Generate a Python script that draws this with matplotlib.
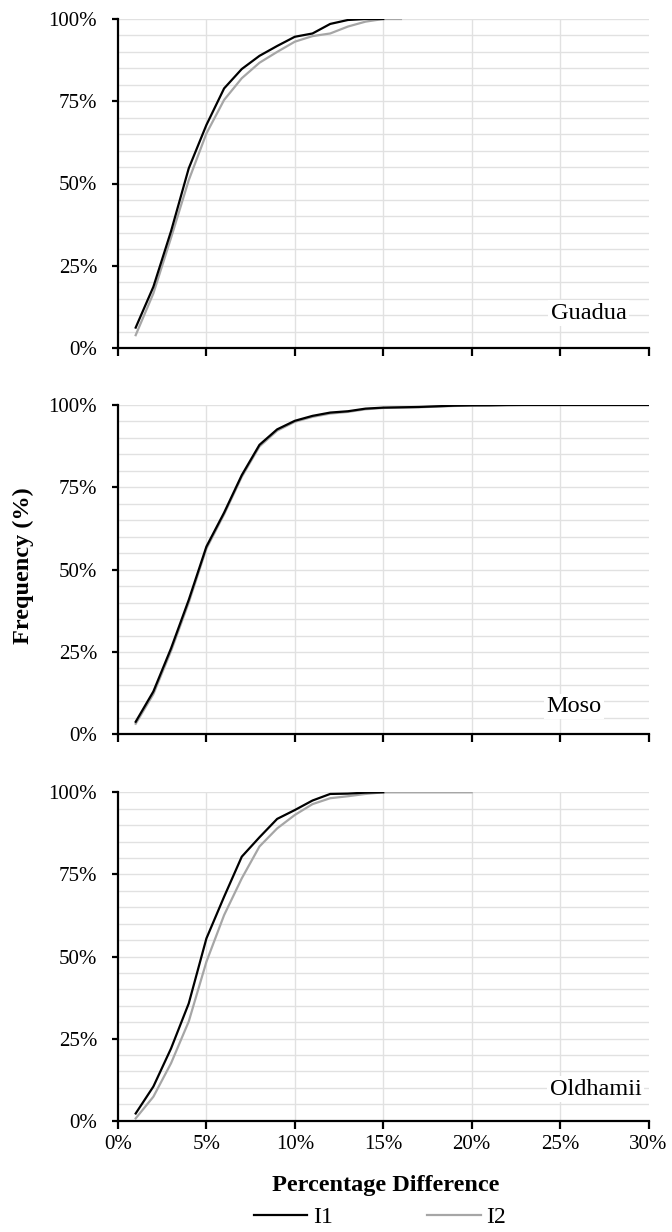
import matplotlib
matplotlib.use("Agg")
import matplotlib.pyplot as plt
from matplotlib.ticker import FuncFormatter, MultipleLocator

plt.rcParams['font.family'] = ['Liberation Serif', 'DejaVu Serif']

# ---- data (percentage difference, cumulative frequency %) ----
guadua_x_i1 = [1, 2, 3, 4, 5, 6, 7, 8, 9, 10, 11, 12, 13, 14, 15]
guadua_i1 = [6.2, 18.6, 35.5, 54.6, 67.8, 78.9, 84.8, 88.8, 91.8, 94.6, 95.6, 98.5, 99.7, 100, 100]
guadua_x_i2 = [1, 2, 3, 4, 5, 6, 7, 8, 9, 10, 11, 12, 13, 14, 15, 16]
guadua_i2 = [3.9, 16.6, 33.5, 51.0, 65.2, 75.4, 82.0, 86.7, 90.0, 93.1, 94.8, 95.6, 97.7, 99.2, 100, 100]

moso_x = [1, 2, 3, 4, 5, 6, 7, 8, 9, 10, 11, 12, 13, 14, 15, 16, 17, 18, 19, 20,
          21, 22, 23, 24, 25, 26, 27, 28, 29, 30]
moso_i1 = [3.8, 13.0, 26.1, 40.8, 57.0, 67.3, 78.7, 87.9, 92.6, 95.2, 96.7, 97.7, 98.1, 98.9, 99.2,
           99.3, 99.4, 99.6, 99.8, 99.9, 99.9, 100, 100, 100, 100, 100, 100, 100, 100, 100]
moso_i2 = [3.2, 12.2, 25.3, 40.0, 56.4, 66.8, 78.2, 87.4, 92.2, 94.9, 96.4, 97.4, 97.9, 98.7, 99.1,
           99.2, 99.3, 99.5, 99.7, 99.8, 99.9, 99.9, 100, 100, 100, 100, 100, 100, 100, 100]

oldhamii_x_i1 = [1, 2, 3, 4, 5, 6, 7, 8, 9, 10, 11, 12, 13, 14, 15]
oldhamii_i1 = [2.2, 10.4, 22.0, 35.7, 55.5, 68.2, 80.4, 86.3, 91.9, 94.6, 97.5, 99.5, 99.6, 99.9, 100]
oldhamii_x_i2 = [1, 2, 3, 4, 5, 6, 7, 8, 9, 10, 11, 12, 13, 14, 15, 16, 17, 18, 19, 20]
oldhamii_i2 = [0.7, 7.3, 17.5, 30.2, 48.4, 62.6, 73.8, 83.5, 89.0, 93.1, 96.4, 98.2, 98.8, 99.5,
               100, 100, 100, 100, 100, 100]

panels = [
    ("Guadua", guadua_x_i1, guadua_i1, guadua_x_i2, guadua_i2, 28.75, 10.6),
    ("Moso", moso_x, moso_i1, moso_x, moso_i2, 27.35, 8.4),
    ("Oldhamii", oldhamii_x_i1, oldhamii_i1, oldhamii_x_i2, oldhamii_i2, 29.6, 9.6),
]
series_names = ["I1", "I2"]
series_colors = ["#000000", "#a6a6a6"]

W, H = 672, 1232
fig = plt.figure(figsize=(W / 100, H / 100), dpi=100)

left_px, right_px = 118, 648.5
tops_bottoms = [(19, 348), (405, 734.3), (792.3, 1120.7)]

pct = FuncFormatter(lambda v, p: f"{v:.0f}%")
handles = []
for i, ((name, x1, y1, x2, y2, lx, ly), (tp, bp)) in enumerate(zip(panels, tops_bottoms)):
    ax = fig.add_axes([left_px / W, 1 - bp / H, (right_px - left_px) / W, (bp - tp) / H])
    ax.set_xlim(0, 30)
    ax.set_ylim(0, 100)
    # grid
    for gy in range(5, 101, 5):
        ax.axhline(gy, color="#e1e1e1", lw=1.0, zorder=0)
    for gx in range(5, 30, 5):
        ax.axvline(gx, color="#e1e1e1", lw=1.0, zorder=0)
    l1, = ax.plot(x1, y1, color=series_colors[0], lw=1.6, zorder=3, label=series_names[0])
    l2, = ax.plot(x2, y2, color=series_colors[1], lw=1.6, zorder=2, label=series_names[1])
    if i == 0:
        handles = [l1, l2]
    ax.text(lx, ly, name, ha="right", va="center", fontsize=17.5,
            bbox=dict(facecolor="white", edgecolor="none", pad=1.5), zorder=4)
    for s in ["top", "right"]:
        ax.spines[s].set_visible(False)
    for s in ["left", "bottom"]:
        ax.spines[s].set_linewidth(1.6)
        ax.spines[s].set_color("black")
    ax.yaxis.set_major_locator(MultipleLocator(25))
    ax.xaxis.set_major_locator(MultipleLocator(5))
    ax.yaxis.set_major_formatter(pct)
    ax.xaxis.set_major_formatter(pct)
    ax.tick_params(axis="y", length=4, width=1.6, pad=11, labelsize=15, direction="out")
    ax.tick_params(axis="x", length=6, width=1.6, pad=4.5, labelsize=15, direction="out")
    if i < 2:
        ax.tick_params(axis="x", labelbottom=False)
    ax.set_facecolor("white")

fig.text(23.5 / W, 1 - 566 / H, "Frequency (%)", rotation=90, ha="center", va="center",
         fontsize=17.5, fontweight="bold")
fig.text(386 / W, 1 - 1185 / H, "Percentage Difference", ha="center", va="center",
         fontsize=17.5, fontweight="bold")
fig.legend(handles, series_names, loc="center", bbox_to_anchor=(380 / W, 1 - 1217 / H),
           ncol=2, frameon=False, fontsize=17, handlelength=2.26, handletextpad=0.25,
           columnspacing=4.0, borderaxespad=0, borderpad=0)

fig.savefig("out.png", dpi=100, facecolor="white")
